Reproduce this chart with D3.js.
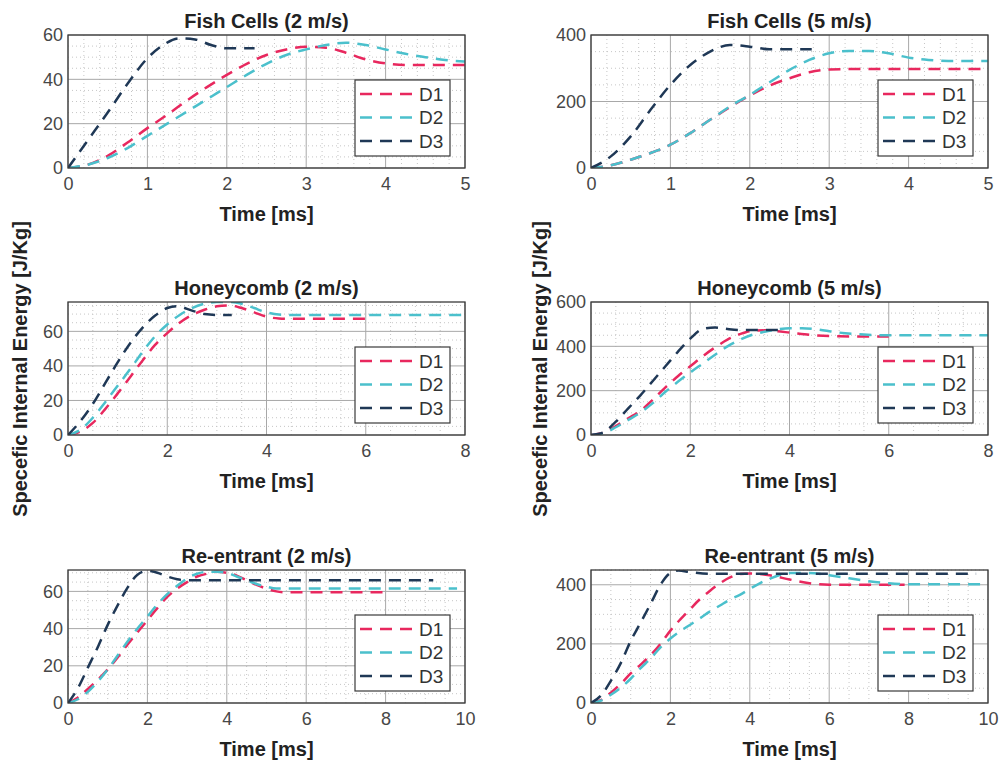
<!DOCTYPE html>
<html>
<head>
<meta charset="utf-8">
<script src="https://cdn.jsdelivr.net/npm/d3@7"></script>
<style>
  body { margin: 0; background: #fff; }
  svg { font-family: "Liberation Sans", Arial, sans-serif; }
</style>
</head>
<body>
<svg id="chart" width="1001" height="763"></svg>
<script>
// series are [time (ms), specific internal energy (J/Kg)]
var fish2D1 = [[0,0],[0.25,1.5],[0.5,5.5],[0.75,11.5],[1,18],[1.25,24],[1.5,30.5],[1.75,36.5],[2,42],[2.25,47],[2.5,51],[2.75,53.5],[3,54.7],[3.25,54.3],[3.5,52],[3.75,49],[4,47.2],[4.25,46.5],[4.5,46.5],[5,46.5]];
var fish2D2 = [[0,0],[0.25,1.5],[0.5,4.5],[0.75,9],[1,14.5],[1.25,20],[1.5,25.5],[1.75,31],[2,36.5],[2.25,42],[2.5,47],[2.75,51],[3,53.5],[3.25,55.5],[3.5,56.5],[3.75,55.5],[4,53.5],[4.25,51.5],[4.5,50],[4.75,48.7],[5,48]];
var fish2D3 = [[0,0],[0.25,12.5],[0.5,25],[0.75,38],[1,49.5],[1.2,55.5],[1.4,58.5],[1.6,58],[1.8,55.5],[2,54],[2.35,54]];

var fish5D1 = [[0,0],[0.25,8],[0.5,25],[0.75,45],[1,70],[1.25,105],[1.5,145],[1.75,183],[2,218],[2.25,248],[2.5,270],[2.75,288],[3,296],[3.5,298],[4,298],[5,298]];
var fish5D2 = [[0,0],[0.25,8],[0.5,25],[0.75,45],[1,70],[1.25,105],[1.5,145],[1.75,185],[2,220],[2.25,258],[2.5,295],[2.75,325],[3,345],[3.25,352],[3.5,352],[3.75,345],[4,332],[4.25,325],[4.5,322],[5,322]];
var fish5D3 = [[0,0],[0.25,35],[0.5,95],[0.75,175],[1,250],[1.25,310],[1.5,350],[1.75,370],[2,365],[2.25,357],[2.78,357]];

var honey2D1 = [[0,0],[0.25,2],[0.5,7],[0.75,15],[1,24],[1.25,33.5],[1.5,43],[1.75,52],[2,59],[2.25,65],[2.5,69.5],[2.75,72.5],[3,74.5],[3.25,75],[3.5,73.5],[3.75,71],[4,68.5],[4.25,67.5],[4.5,67.3],[6,67.3]];
var honey2D2 = [[0,0],[0.25,3],[0.5,10],[0.75,19],[1,28.5],[1.25,38],[1.5,48],[1.75,57],[2,64],[2.25,69.5],[2.5,73.5],[2.75,76],[3,77],[3.25,77],[3.5,76],[3.75,73.5],[4,71],[4.25,69.7],[4.5,69.5],[8,69.5]];
var honey2D3 = [[0,0],[0.25,8],[0.5,18],[0.75,30],[1,42],[1.25,53],[1.5,62],[1.75,69],[2,73.5],[2.2,74.5],[2.5,72],[2.75,70],[3,69.5],[3.3,69.5]];

var honey5D1 = [[0,0],[0.25,10],[0.5,40],[0.75,75],[1,110],[1.25,160],[1.5,215],[1.75,265],[2,310],[2.25,355],[2.5,395],[2.75,430],[3,455],[3.25,470],[3.5,472],[3.75,468],[4,462],[4.5,450],[5,445],[5.5,444],[6,444]];
var honey5D2 = [[0,0],[0.25,8],[0.5,35],[0.75,68],[1,102],[1.25,145],[1.5,195],[1.75,240],[2,282],[2.25,322],[2.5,362],[2.75,400],[3,430],[3.25,452],[3.5,466],[3.75,476],[4,482],[4.25,482],[4.5,478],[4.75,470],[5,462],[5.5,453],[6,450],[8,450]];
var honey5D3 = [[0,0],[0.25,12],[0.5,60],[0.75,120],[1,180],[1.25,245],[1.5,310],[1.75,375],[2,435],[2.25,478],[2.5,485],[2.75,478],[3,474],[3.84,474]];

var reent2D1 = [[0,0],[0.25,3],[0.5,7.5],[0.75,12.5],[1,18],[1.25,24.5],[1.5,31.5],[1.75,38],[2,44.5],[2.25,51],[2.5,57],[2.75,61.5],[3,65],[3.25,68],[3.5,69.5],[3.75,70.5],[4,70],[4.25,68.5],[4.5,66],[4.75,63.5],[5,61.5],[5.25,60],[5.5,59.5],[8,59.5]];
var reent2D2 = [[0,0],[0.25,2],[0.5,6],[0.75,11.5],[1,18],[1.25,25.5],[1.5,33],[1.75,40],[2,46.5],[2.25,53],[2.5,58.5],[2.75,63],[3,67],[3.25,69.5],[3.5,70.5],[3.75,70.5],[4,70],[4.25,68],[4.5,66],[4.75,64],[5,62.5],[5.25,61.5],[5.5,61.5],[9.8,61.5]];
var reent2D3 = [[0,0],[0.25,8],[0.5,19],[0.75,30],[1,42],[1.25,52.5],[1.5,62],[1.75,69],[2,71],[2.25,70],[2.5,68],[2.75,66.5],[3,66],[9.2,66]];

var reent5D1 = [[0,0],[0.25,10],[0.5,35],[0.75,65],[1,100],[1.25,130],[1.5,162],[1.75,200],[2,245],[2.25,283],[2.5,318],[2.75,352],[3,380],[3.25,405],[3.5,425],[3.75,436],[4,438],[4.5,432],[5,418],[5.5,405],[6,400],[7.9,400]];
var reent5D2 = [[0,0],[0.25,8],[0.5,28],[0.75,52],[1,82],[1.25,118],[1.5,150],[1.75,188],[2,218],[2.25,243],[2.5,265],[2.75,287],[3,310],[3.25,330],[3.5,350],[3.75,366],[4,386],[4.25,405],[4.5,420],[4.75,433],[5,440],[5.5,440],[6,432],[6.5,422],[7,412],[7.5,405],[8,402],[10,402]];
var reent5D3 = [[0,0],[0.25,25],[0.5,75],[0.75,135],[1,210],[1.25,272],[1.5,335],[1.75,400],[2,440],[2.2,448],[2.5,443],[3,437],[9.7,437]];

var seriesNames = ["D1", "D2", "D3"];
var seriesColors = ["#e8285e", "#4bc0cc", "#1f3856"];

var titles = ["Fish Cells (2 m/s)", "Fish Cells (5 m/s)", "Honeycomb (2 m/s)", "Honeycomb (5 m/s)", "Re-entrant (2 m/s)", "Re-entrant (5 m/s)"];
var xMaxes = [5, 5, 8, 8, 10, 10];
var yMaxes = [60, 400, 77, 600, 71.5, 450];

var panels = [
    {left: 68,  top: 35,  xStep: 1, xMinor: 0.2, yStep: 20,  yMinor: 5,  data: [fish2D1, fish2D2, fish2D3]},
    {left: 591, top: 35,  xStep: 1, xMinor: 0.2, yStep: 200, yMinor: 50, data: [fish5D1, fish5D2, fish5D3]},
    {left: 68,  top: 302, xStep: 2, xMinor: 0.5, yStep: 20,  yMinor: 5,  data: [honey2D1, honey2D2, honey2D3]},
    {left: 591, top: 302, xStep: 2, xMinor: 0.5, yStep: 200, yMinor: 50, data: [honey5D1, honey5D2, honey5D3]},
    {left: 68,  top: 570, xStep: 2, xMinor: 0.5, yStep: 20,  yMinor: 5,  data: [reent2D1, reent2D2, reent2D3]},
    {left: 591, top: 570, xStep: 2, xMinor: 0.5, yStep: 200, yMinor: 50, data: [reent5D1, reent5D2, reent5D3]}
];

var svg = d3.select("#chart"),
    width = 397,
    height = 133;

function stepRange(max, step) {
    return d3.range(0, max + step * 1e-6, step).map(function(v) { return +v.toFixed(6); });
}

panels.forEach(function(p, i) {
    var g = svg.append("g").attr("transform", "translate(" + p.left + "," + p.top + ")");

    var x = d3.scaleLinear().domain([0, xMaxes[i]]).range([0, width]);
    var y = d3.scaleLinear().domain([0, yMaxes[i]]).range([height, 0]);

    var xMajor = stepRange(xMaxes[i], p.xStep),
        yMajor = stepRange(yMaxes[i], p.yStep);
    var xMinor = stepRange(xMaxes[i], p.xMinor).filter(function(v) { return xMajor.indexOf(v) < 0; }),
        yMinor = stepRange(yMaxes[i], p.yMinor).filter(function(v) { return yMajor.indexOf(v) < 0; });

    g.append("rect").attr("width", width).attr("height", height).attr("fill", "#fff");

    // minor grid (dotted)
    g.append("g").selectAll("line").data(xMinor).enter().append("line")
        .attr("x1", function(d) { return x(d); }).attr("x2", function(d) { return x(d); })
        .attr("y1", 0).attr("y2", height)
        .attr("stroke", "#c6c6c6").attr("stroke-width", 1).attr("stroke-dasharray", "1,3");
    g.append("g").selectAll("line").data(yMinor).enter().append("line")
        .attr("y1", function(d) { return y(d); }).attr("y2", function(d) { return y(d); })
        .attr("x1", 0).attr("x2", width)
        .attr("stroke", "#c6c6c6").attr("stroke-width", 1).attr("stroke-dasharray", "1,3");

    // major grid
    g.append("g").selectAll("line").data(xMajor).enter().append("line")
        .attr("x1", function(d) { return x(d); }).attr("x2", function(d) { return x(d); })
        .attr("y1", 0).attr("y2", height)
        .attr("stroke", "#a8a8a8").attr("stroke-width", 1);
    g.append("g").selectAll("line").data(yMajor).enter().append("line")
        .attr("y1", function(d) { return y(d); }).attr("y2", function(d) { return y(d); })
        .attr("x1", 0).attr("x2", width)
        .attr("stroke", "#a8a8a8").attr("stroke-width", 1);

    // clip
    g.append("clipPath").attr("id", "clip" + i)
        .append("rect").attr("width", width).attr("height", height);

    var line = d3.line()
        .x(function(d) { return x(d[0]); })
        .y(function(d) { return y(d[1]); })
        .curve(d3.curveMonotoneX);

    p.data.forEach(function(s, k) {
        g.append("path")
            .datum(s)
            .attr("clip-path", "url(#clip" + i + ")")
            .attr("fill", "none")
            .attr("stroke", seriesColors[k])
            .attr("stroke-width", 2.5)
            .attr("stroke-dasharray", "12,8")
            .attr("d", line);
    });

    // axes
    var xAxis = g.append("g")
        .attr("transform", "translate(0," + height + ")")
        .call(d3.axisBottom(x).tickValues(xMajor).tickSize(0).tickPadding(9).tickFormat(d3.format("d")));
    var yAxis = g.append("g")
        .call(d3.axisLeft(y).tickValues(yMajor).tickSize(0).tickPadding(5).tickFormat(d3.format("d")));
    [xAxis, yAxis].forEach(function(a) {
        a.select(".domain").remove();
        a.selectAll("text")
            .attr("font-family", "'Liberation Sans', Arial, sans-serif")
            .attr("font-size", 18)
            .attr("fill", "#474747");
    });

    g.append("rect")
        .attr("width", width).attr("height", height)
        .attr("fill", "none").attr("stroke", "#3a3a3a").attr("stroke-width", 1.3);

    // title and x label
    g.append("text")
        .attr("x", width / 2).attr("y", -7)
        .attr("text-anchor", "middle")
        .attr("font-size", 20).attr("font-weight", "bold").attr("fill", "#222")
        .text(titles[i]);

    g.append("text")
        .attr("x", width / 2).attr("y", height + 53)
        .attr("text-anchor", "middle")
        .attr("font-size", 20).attr("font-weight", "bold").attr("fill", "#222")
        .text("Time [ms]");

    // legend
    var legend = g.append("g")
        .attr("transform", "translate(" + (width - 110) + "," + (height - 88) + ")");
    legend.append("rect")
        .attr("width", 95).attr("height", 76)
        .attr("fill", "#fff").attr("stroke", "#3a3a3a").attr("stroke-width", 1.2);
    var item = legend.selectAll("g.item")
        .data(seriesNames)
        .enter().append("g")
        .attr("class", "item")
        .attr("transform", function(d, k) { return "translate(0," + (14 + k * 23.5) + ")"; });
    item.append("line")
        .attr("x1", 5).attr("x2", 60)
        .attr("stroke", function(d, k) { return seriesColors[k]; })
        .attr("stroke-width", 2.5)
        .attr("stroke-dasharray", "12,8");
    item.append("text")
        .attr("x", 64).attr("dy", "0.36em")
        .attr("font-size", 19).attr("fill", "#333")
        .text(function(d) { return d; });
});

// shared y labels
[27, 547].forEach(function(xPos) {
    svg.append("text")
        .attr("transform", "translate(" + xPos + ",369) rotate(-90)")
        .attr("text-anchor", "middle")
        .attr("font-size", 20).attr("font-weight", "bold").attr("fill", "#222")
        .text("Specefic Internal Energy [J/Kg]");
});
</script>
</body>
</html>
